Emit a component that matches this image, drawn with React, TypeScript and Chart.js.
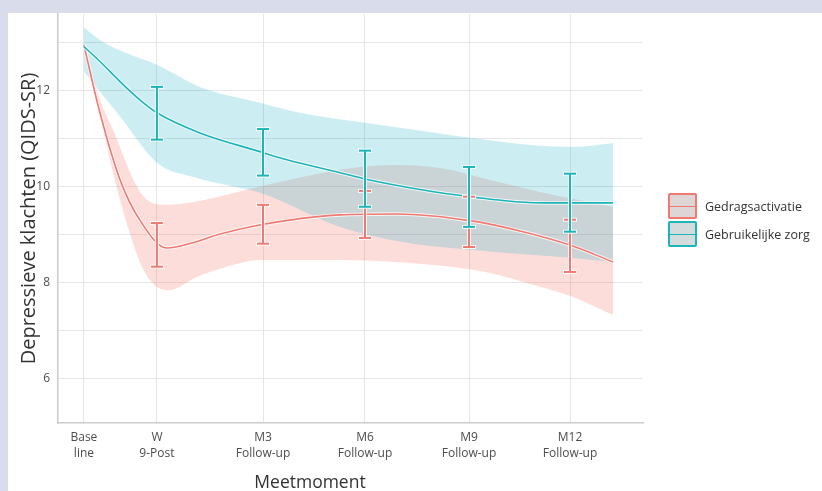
import React, { useEffect, useRef } from "react";
import { Chart, registerables } from "chart.js";
Chart.register(...registerables);

const FONT = '"Open Sans", "Noto Sans", sans-serif';

const xTickPositions = [0, 2.14, 5.25, 8.24, 11.29, 14.25];
const xTickLabels = [
  ["Base", "line"],
  ["W", "9-Post"],
  ["M3", "Follow-up"],
  ["M6", "Follow-up"],
  ["M9", "Follow-up"],
  ["M12", "Follow-up"],
];
const xTitle = "Meetmoment";
const yTitle = "Depressieve klachten (QIDS-SR)";
const yTicks = [6, 7, 8, 9, 10, 11, 12, 13];
const yLabeled = [6, 8, 10, 12];

const seriesNames = ["Gedragsactivatie", "Gebruikelijke zorg"];

// Gedragsactivatie (smoothed line and band)
const gaLine = [[0, 12.95], [0.47, 11.54], [1.06, 10.14], [1.64, 9.3], [2.43, 8.72], [3.2, 8.83], [3.89, 8.99], [5.16, 9.2], [7.51, 9.41], [9.18, 9.43], [11.32, 9.29], [12.87, 9.06], [14.25, 8.78], [15.51, 8.43]];
const gaUpper = [[0, 13.0], [0.47, 11.81], [0.85, 11.19], [1.55, 10.0], [1.94, 9.68], [2.43, 9.62], [3.2, 9.68], [4.19, 9.83], [5.16, 10.0], [7.51, 10.35], [8.97, 10.45], [10.44, 10.39], [11.91, 10.14], [13.37, 9.89], [15.51, 9.58]];
const gaLower = [[0, 12.8], [0.47, 11.44], [1.06, 9.72], [1.64, 8.43], [1.94, 8.05], [2.23, 7.87], [2.52, 7.84], [2.9, 7.95], [3.2, 8.08], [4.19, 8.33], [5.16, 8.47], [7.51, 8.47], [9.47, 8.41], [11.91, 8.2], [13.37, 7.91], [14.34, 7.7], [15.51, 7.32]];

// Gebruikelijke zorg (smoothed line and band)
const gzLine = [[0, 12.92], [0.47, 12.61], [1.06, 12.19], [1.64, 11.81], [2.14, 11.54], [3.4, 11.12], [5.16, 10.73], [5.95, 10.56], [7.51, 10.29], [8.24, 10.16], [9.94, 9.93], [11.32, 9.79], [12.79, 9.68], [13.58, 9.66], [15.51, 9.66]];
const gzUpper = [[0, 13.32], [0.47, 13.06], [1.06, 12.84], [2.14, 12.54], [3.4, 12.08], [5.16, 11.75], [6.33, 11.54], [8.24, 11.33], [9.27, 11.23], [11.32, 11.02], [13.37, 10.85], [14.34, 10.83], [15.51, 10.91]];
const gzLower = [[0, 12.4], [1.06, 11.46], [2.14, 10.5], [3.2, 10.2], [4.37, 10.0], [5.16, 9.87], [7.51, 9.16], [9.47, 8.83], [11.41, 8.68], [14.34, 8.51], [15.51, 8.43]];

// Error bars at the measurement moments (W, M3, M6, M9, M12)
const errX = [2.14, 5.25, 8.24, 11.29, 14.25];
const gaErrLow = [8.33, 8.81, 8.93, 8.74, 8.22];
const gaErrHigh = [9.24, 9.62, 9.91, 9.79, 9.31];
const gzErrLow = [10.98, 10.23, 9.58, 9.16, 9.06];
const gzErrHigh = [12.08, 11.2, 10.75, 10.41, 10.27];

const RED = "#f07a72";
const RED_BAND = "rgba(248,118,109,0.25)";
const TEAL = "#1db4b8";
const TEAL_BAND = "rgba(0,172,193,0.2)";

const toXY = (arr: number[][]) => arr.map(([x, y]) => ({ x, y }));
const errData = (lows: number[], highs: number[]) =>
  lows.flatMap((lo, i) => [
    { x: errX[i], y: lo },
    { x: errX[i], y: highs[i] },
    { x: errX[i], y: null as any },
  ]);

export default function App() {
  const ref = useRef<HTMLCanvasElement | null>(null);

  useEffect(() => {
    if (!ref.current) return;
    const band = (data: number[][], fill: any, color: string, order: number) => ({
      type: "line" as const,
      data: toXY(data),
      borderWidth: 0,
      borderColor: "rgba(0,0,0,0)",
      backgroundColor: color,
      fill,
      pointRadius: 0,
      cubicInterpolationMode: "monotone" as const,
      order,
    });
    const line = (data: number[][], color: string, width: number, order: number) => ({
      type: "line" as const,
      data: toXY(data),
      borderWidth: width,
      borderColor: color,
      fill: false,
      pointRadius: 0,
      cubicInterpolationMode: "monotone" as const,
      order,
    });
    const err = (data: any[], color: string, width: number, cap: number, order: number) => ({
      type: "line" as const,
      data,
      borderWidth: width,
      borderColor: color,
      fill: false,
      spanGaps: false,
      pointStyle: "line" as const,
      pointRadius: cap,
      pointBorderWidth: width,
      pointBorderColor: color,
      pointBackgroundColor: color,
      order,
    });

    const chart = new Chart(ref.current, {
      type: "line",
      data: {
        datasets: [
          band(gaUpper, "+1", RED_BAND, 20),
          band(gaLower, false, RED_BAND, 20),
          band(gzUpper, "+1", TEAL_BAND, 19),
          band(gzLower, false, TEAL_BAND, 19),
          line(gaLine, "rgba(255,255,255,0.8)", 3.5, 14),
          line(gaLine, RED, 1.6, 13),
          line(gzLine, "rgba(255,255,255,0.8)", 3.5, 12),
          line(gzLine, TEAL, 1.6, 11),
          err(errData(gaErrLow, gaErrHigh), "rgba(255,255,255,0.85)", 4, 7, 8),
          err(errData(gaErrLow, gaErrHigh), RED, 2, 6, 7),
          err(errData(gzErrLow, gzErrHigh), "rgba(255,255,255,0.85)", 4, 7, 6),
          err(errData(gzErrLow, gzErrHigh), TEAL, 2, 6, 5),
        ] as any,
      },
      options: {
        animation: false,
        responsive: true,
        maintainAspectRatio: false,
        layout: { autoPadding: false, padding: { left: 0, top: 1, right: 179, bottom: 0 } },
        plugins: {
          legend: { display: false },
          tooltip: { enabled: false },
        },
        scales: {
          x: {
            type: "linear",
            min: -0.76,
            max: 16.39,
            afterFit: (s: any) => {
              s.height = 68;
              s.paddingLeft = 0;
              s.paddingRight = 0;
            },
            afterBuildTicks: (s: any) => {
              s.ticks = xTickPositions.map((v) => ({ value: v }));
            },
            ticks: {
              autoSkip: false,
              maxRotation: 0,
              padding: 6,
              color: "#4d4d4d",
              font: { family: FONT, size: 12, lineHeight: 1.35 },
              callback: (_v: any, i: number) => xTickLabels[i],
            },
            grid: { color: "#e6e6e6", lineWidth: 1, drawTicks: false },
            border: { display: true, color: "#cccccc", width: 1.5 },
            title: { display: false },
          },
          y: {
            type: "linear",
            min: 5.07,
            max: 13.6,
            afterFit: (s: any) => {
              s.width = 50;
              s.paddingTop = 0;
              s.paddingBottom = 0;
            },
            afterBuildTicks: (s: any) => {
              s.ticks = yTicks.map((v) => ({ value: v }));
            },
            ticks: {
              padding: 8,
              color: "#4d4d4d",
              font: { family: FONT, size: 12 },
              callback: (v: any) => (yLabeled.includes(Number(v)) ? String(v) : ""),
            },
            grid: { color: "#e6e6e6", lineWidth: 1, drawTicks: false },
            border: { display: true, color: "#cccccc", width: 1.5 },
            title: {
              display: true,
              text: yTitle,
              color: "#333333",
              font: { family: FONT, size: 20 },
              padding: { top: 9, bottom: 0 },
            },
          },
        },
      } as any,
    });
    return () => chart.destroy();
  }, []);

  const keyStyle = (color: string, fill: string): React.CSSProperties => ({
    position: "relative",
    width: 29,
    height: 26,
    boxSizing: "border-box",
    border: `2px solid ${color}`,
    borderRadius: 2,
    background: fill,
  });

  const legendItems = [
    { name: seriesNames[0], color: RED, fill: "#ddd5d6" },
    { name: seriesNames[1], color: TEAL, fill: "#d3dbdd" },
  ];

  return (
    <div style={{ position: "fixed", inset: 0, background: "#d9dcea" }}>
      <div
        style={{
          position: "absolute",
          left: 8,
          top: 13,
          width: 814,
          height: 478,
          background: "#ffffff",
        }}
      >
        <canvas ref={ref} />
        <div
          style={{
            position: "absolute",
            left: 202,
            width: 200,
            top: 456,
            textAlign: "center",
            fontFamily: FONT,
            fontSize: 17.5,
            lineHeight: "24px",
            color: "#333333",
            whiteSpace: "nowrap",
          }}
        >
          {xTitle}
        </div>
        {legendItems.map((it, i) => (
          <div
            key={it.name}
            style={{
              position: "absolute",
              left: 660,
              top: 180 + i * 28,
              display: "flex",
              alignItems: "center",
            }}
          >
            <div style={keyStyle(it.color, it.fill)}>
              <div
                style={{
                  position: "absolute",
                  left: 0,
                  right: 0,
                  top: 10.5,
                  height: 1.5,
                  background: it.color,
                }}
              />
            </div>
            <span
              style={{
                marginLeft: 8,
                fontFamily: FONT,
                fontSize: 12.5,
                color: "#333333",
                whiteSpace: "nowrap",
              }}
            >
              {it.name}
            </span>
          </div>
        ))}
      </div>
    </div>
  );
}
